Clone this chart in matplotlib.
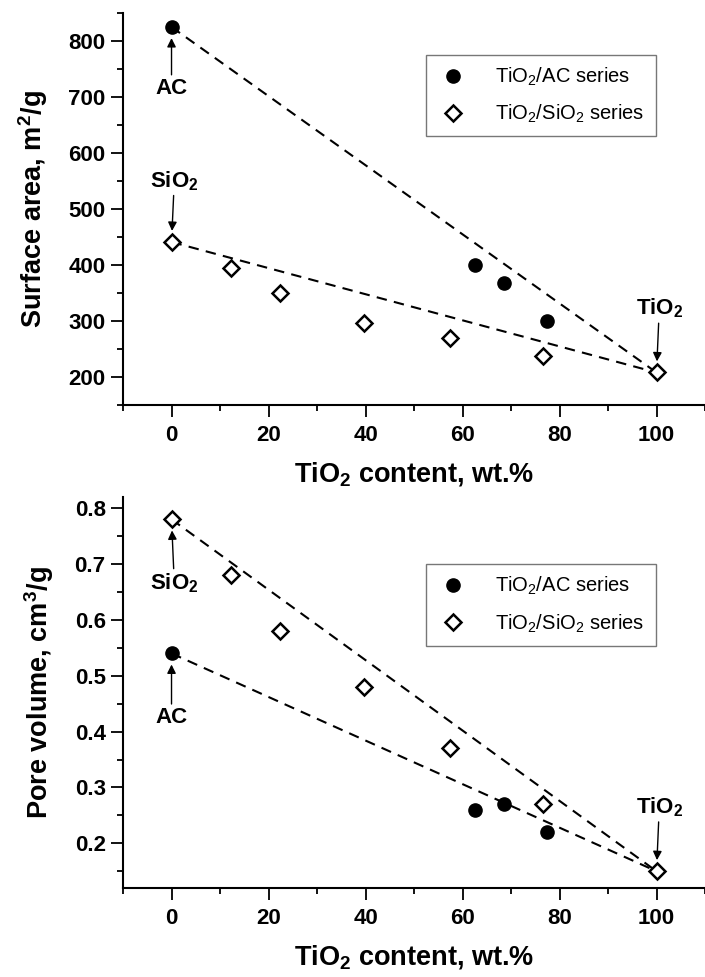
import numpy as np
import matplotlib
matplotlib.use('Agg')
import matplotlib.pyplot as plt
from matplotlib.ticker import MultipleLocator

plt.rcParams['font.family'] = ['Liberation Sans', 'DejaVu Sans']
plt.rcParams['mathtext.default'] = 'regular'

# data
ac_x = [0, 62.5, 68.5, 77.5]
ac_area = [825, 400, 367, 300]
ac_pore = [0.54, 0.26, 0.27, 0.22]

si_x = [0, 12.3, 22.3, 39.7, 57.5, 76.6, 100]
si_area = [441, 395, 350, 297, 270, 237, 208]
si_pore = [0.78, 0.68, 0.58, 0.48, 0.37, 0.27, 0.15]

tio2_area = 208
tio2_pore = 0.15

fig = plt.figure(figsize=(7.05, 9.77), dpi=100)
ax1 = fig.add_axes([0.1745, 0.5855, 0.8255, 0.4012])
ax2 = fig.add_axes([0.1745, 0.0911, 0.8255, 0.4002])


def style_axes(ax, ylim, ymaj, ymin, ylabel, yfmt, xpad):
    ax.set_xlim(-10, 110)
    ax.set_ylim(*ylim)
    ax.xaxis.set_major_locator(MultipleLocator(20))
    ax.xaxis.set_minor_locator(MultipleLocator(10))
    ax.yaxis.set_major_locator(MultipleLocator(ymaj))
    ax.yaxis.set_minor_locator(MultipleLocator(ymin))
    ax.spines['top'].set_visible(False)
    ax.spines['right'].set_visible(False)
    for s in ['left', 'bottom']:
        ax.spines[s].set_linewidth(1.5)
    ax.tick_params(which='major', direction='out', length=8.5, width=1.3,
                   labelsize=16, pad=4)
    ax.tick_params(axis='x', which='major', pad=6)
    ax.tick_params(which='minor', direction='out', length=4.5, width=1.3)
    for lab in ax.get_xticklabels() + ax.get_yticklabels():
        lab.set_fontweight('bold')
    ax.yaxis.set_major_formatter(plt.FormatStrFormatter(yfmt))
    ax.set_xlabel('TiO$_2$ content, wt.%', fontsize=19.5, fontweight='bold',
                  labelpad=xpad)
    ax.set_ylabel(ylabel, fontsize=19.5, fontweight='bold', labelpad=13)


def draw(ax, ac_y, si_y, ti_y):
    # dashed guide lines from the bare support to pure TiO2
    ax.plot([ac_x[0], 100], [ac_y[0], ti_y], ls=(0, (5, 3.5)), color='black',
            lw=1.5, zorder=1)
    ax.plot([si_x[0], si_x[-1]], [si_y[0], si_y[-1]], ls=(0, (5, 3.5)),
            color='black', lw=1.5, zorder=1)
    ax.plot(ac_x, ac_y, 'o', color='black', ms=9.5, zorder=3,
            label='TiO$_2$/AC series')
    ax.plot(si_x, si_y, 'D', mfc='white', mec='black', mew=1.8, ms=8.3,
            zorder=3, label='TiO$_2$/SiO$_2$ series')


draw(ax1, ac_area, si_area, tio2_area)
style_axes(ax1, (150, 850), 100, 50, 'Surface area, m$^2$/g', '%d', 10)
draw(ax2, ac_pore, si_pore, tio2_pore)
style_axes(ax2, (0.12, 0.82), 0.1, 0.05, 'Pore volume, cm$^3$/g', '%.1f', 10)

for ax, loc in [(ax1, (0.52, 0.685)), (ax2, (0.52, 0.62))]:
    leg = ax.legend(loc='lower left', bbox_to_anchor=loc, fontsize=14.5,
                    frameon=True, fancybox=False, edgecolor='#555555',
                    handletextpad=1.3, borderpad=0.55, labelspacing=0.75,
                    handlelength=1.6, borderaxespad=0)
    leg.get_frame().set_linewidth(1.0)

arrow = dict(arrowstyle='-|>', color='black', lw=1.0, mutation_scale=13,
             shrinkA=0, shrinkB=8)
ann = dict(ha='center', va='center', fontsize=16, fontweight='bold',
           textcoords='offset points', arrowprops=arrow)

ax1.annotate('AC', xy=(ac_x[0], ac_area[0]), xytext=(0, -44), **ann)
ax1.annotate('SiO$_2$', xy=(si_x[0], si_area[0]), xytext=(2, 44), **ann)
ax1.annotate('TiO$_2$', xy=(100, tio2_area), xytext=(2, 46), **ann)

ax2.annotate('SiO$_2$', xy=(si_x[0], si_pore[0]), xytext=(2, -46), **ann)
ax2.annotate('AC', xy=(ac_x[0], ac_pore[0]), xytext=(0, -46), **ann)
ax2.annotate('TiO$_2$', xy=(100, tio2_pore), xytext=(2, 46), **ann)

fig.savefig('out.png', dpi=100)
